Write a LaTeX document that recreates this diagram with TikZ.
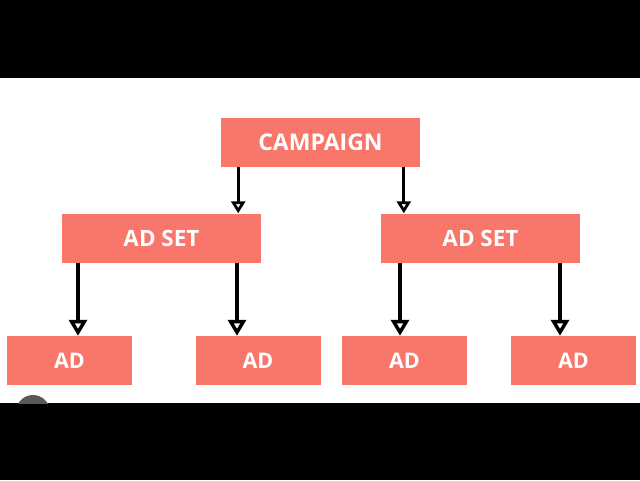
\documentclass[tikz,border=0pt]{standalone}
\usepackage{fontspec}
\setmainfont{Open Sans}
\usetikzlibrary{arrows.meta}
\definecolor{salmon}{RGB}{248,118,106}

\begin{document}
\begin{tikzpicture}[x=1pt,y=-1pt,
 box/.style={fill=salmon,text=white,font=\bfseries,inner sep=0pt,minimum height=49pt},
 top/.style={box,minimum width=199pt,font=\fontsize{23}{26}\bfseries\selectfont},
 setbox/.style={box,minimum width=199pt,font=\fontsize{22.5}{26}\bfseries\selectfont},
 adbox/.style={box,minimum width=125pt,font=\fontsize{21.5}{24}\bfseries\selectfont},
 flow/.style={-{Triangle[open,length=12pt,width=14pt,line width=2.8pt]},line width=3pt},
 bigflow/.style={-{Triangle[open,length=16pt,width=18pt,line width=3.5pt]},line width=4pt}]
\fill[black] (0,0) rectangle (640,480);
\fill[white] (0,78) rectangle (640,403);

\node[top] (campaign) at (320.5,142.5) {CAMPAIGN};

\node[setbox] (setl) at (161.5,238) {AD SET};
\node[setbox] (setr) at (480.5,238) {AD SET};

\node[adbox] (ad1) at (69.5,360.5) {AD};
\node[adbox] (ad2) at (258,360.5) {AD};
\node[adbox] (ad3) at (404.5,360.5) {AD};
\node[adbox] (ad4) at (573.5,360.5) {AD};

\draw[flow] (campaign.south -| setl.north east) ++(-23,0) coordinate (c1)
  (c1) -- (c1 |- setl.north);
\draw[flow] (campaign.south -| setr.north west) ++(23,0) coordinate (c2)
  (c2) -- (c2 |- setr.north);

\draw[bigflow] (setl.south -| ad1.north) ++(8.5,0) coordinate (l1) (l1) -- (l1 |- ad1.north);
\draw[bigflow] (setl.south -| ad2.north) ++(-21,0) coordinate (l2) (l2) -- (l2 |- ad2.north);
\draw[bigflow] (setr.south -| ad3.north) ++(-4.5,0) coordinate (r1) (r1) -- (r1 |- ad3.north);
\draw[bigflow] (setr.south -| ad4.north) ++(-13.5,0) coordinate (r2) (r2) -- (r2 |- ad4.north);

% overlay button, cut by the bottom bar
\begin{scope}
\clip (0,78) rectangle (640,403);
\fill[black!65] (33,412) circle (17);
\end{scope}
\end{tikzpicture}
\end{document}
